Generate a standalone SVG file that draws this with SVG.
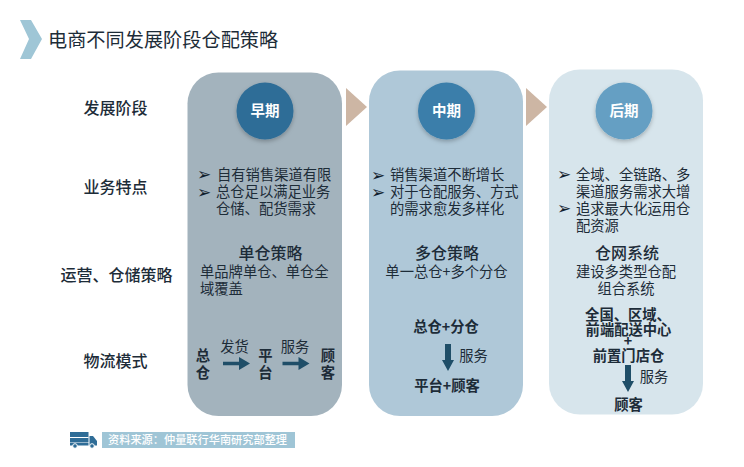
<svg xmlns="http://www.w3.org/2000/svg" width="744" height="467" viewBox="0 0 744 467">
<style>
text{font-family:"Noto Sans CJK SC","Noto Sans",sans-serif;fill:#1d2c38}
.l{font-size:16px;font-weight:500;text-anchor:middle}
.b{font-size:14.3px}
.c{font-size:14.3px;text-anchor:middle}
.s{font-size:16px;font-weight:500;text-anchor:middle}
.m{font-size:14.3px;font-weight:700;text-anchor:middle}
.p{font-size:17px;font-family:"DejaVu Sans",sans-serif;fill:#10202c}
.t{font-size:14.5px;font-weight:700;fill:#fff;text-anchor:middle}
.arw{fill:#1f4e68}
.tri{fill:#cdb6a4}
</style>
<defs>
<filter id="sh" x="-20%" y="-20%" width="140%" height="150%"><feDropShadow dx="0" dy="2" stdDeviation="2" flood-color="#000" flood-opacity=".25"/></filter>
<path id="ah" d="M0-1.7H16V-6.5L27 0 16 6.5V1.7H0Z"/>
<path id="av" d="M-3 0H3V16H6L0 27-6 16H-3Z"/>
</defs>
<rect width="744" height="467" fill="#fff"/>
<g id="title">
<polygon points="20,20 31,20 42,39 31,59 20,59 29,39" fill="#9fc6d6"/>
<text x="48" y="47" style="font-size:19.2px">电商不同发展阶段仓配策略</text>
</g>
<g id="row-labels">
<text class="l" x="115.5" y="114">发展阶段</text>
<text class="l" x="115.5" y="192.5">业务特点</text>
<text class="l" x="116.5" y="281">运营、仓储策略</text>
<text class="l" x="115.5" y="367">物流模式</text>
</g>
<g id="early">
<rect x="187.5" y="72.5" width="154.5" height="343.5" rx="31" fill="#a3b3bd"/>
<circle cx="265" cy="111" r="28.5" fill="#2f6d97" filter="url(#sh)"/>
<text class="t" x="265" y="116">早期</text>
<text class="p" x="197" y="180">➢</text><text class="b" x="217" y="179.5">自有销售渠道有限</text>
<text class="p" x="197" y="197.5">➢</text><text class="b" x="216" y="197">总仓足以满足业务</text>
<text class="b" x="216" y="214">仓储、配货需求</text>
<text class="s" x="270.5" y="259">单仓策略</text>
<text class="b" x="200" y="277">单品牌单仓、单仓全</text>
<text class="b" x="200" y="294">域覆盖</text>
<text class="m" x="203" y="361">总</text><text class="m" x="203" y="378">仓</text>
<text class="c" x="234.5" y="352">发货</text>
<use href="#ah" class="arw" x="223" y="363.5"/>
<text class="m" x="265.5" y="361">平</text><text class="m" x="265.5" y="378">台</text>
<text class="c" x="295" y="352">服务</text>
<use href="#ah" class="arw" x="282.5" y="363.5"/>
<text class="m" x="328" y="361">顾</text><text class="m" x="328" y="378">客</text>
</g>
<g id="mid">
<rect x="369" y="70.5" width="154" height="345.5" rx="31" fill="#afc8d8"/>
<circle cx="446.5" cy="111" r="28.5" fill="#3a7eaa" filter="url(#sh)"/>
<text class="t" x="446.5" y="116">中期</text>
<text class="p" x="371" y="180.5">➢</text><text class="b" x="390" y="180">销售渠道不断增长</text>
<text class="p" x="371" y="197.5">➢</text><text class="b" x="390" y="197">对于仓配服务、方式</text>
<text class="b" x="390" y="214">的需求愈发多样化</text>
<text class="s" x="447" y="259">多仓策略</text>
<text class="c" x="446.5" y="277">单一总仓+多个分仓</text>
<text class="m" x="446" y="332">总仓+分仓</text>
<use href="#av" class="arw" x="448" y="344"/>
<text class="c" x="473.5" y="361">服务</text>
<text class="m" x="447" y="391">平台+顾客</text>
</g>
<g id="late">
<rect x="549" y="69.5" width="154" height="345" rx="31" fill="#d7e5ec"/>
<circle cx="624" cy="111" r="28.5" fill="#659fc3" filter="url(#sh)"/>
<text class="t" x="624" y="116">后期</text>
<text class="p" x="557" y="180">➢</text><text class="b" x="576" y="179.5">全域、全链路、多</text>
<text class="b" x="576" y="196.5">渠道服务需求大增</text>
<text class="p" x="557" y="214">➢</text><text class="b" x="576" y="213.5">追求最大化运用仓</text>
<text class="b" x="576" y="231">配资源</text>
<text class="s" x="627" y="259">仓网系统</text>
<text class="c" x="626" y="277">建设多类型仓配</text>
<text class="c" x="626" y="294">组合系统</text>
<text class="m" style="font-weight:600"><tspan x="628" y="320">全国、区域、</tspan><tspan x="628.5" y="335">前端配送中心</tspan><tspan x="628" y="346">+</tspan><tspan x="628.5" y="361">前置门店仓</tspan></text>
<use href="#av" class="arw" x="628" y="365"/>
<text class="c" x="654" y="382">服务</text>
<text class="m" x="628.5" y="410">顾客</text>
</g>
<g id="connectors">
<polygon class="tri" points="346,88 367,107 346,126"/>
<polygon class="tri" points="526,88 547,107 526,126"/>
</g>
<g id="source">
<rect x="70" y="432" width="18.5" height="10.5" fill="#2f6d97"/>
<rect x="70" y="437" width="18.5" height="1" fill="#fff"/>
<path d="M89.5 436H93L97 441V445.5H89.5Z" fill="#2f6d97"/>
<rect x="70" y="443" width="18.5" height="2.5" fill="#2f6d97"/>
<circle cx="75" cy="446" r="2.3" fill="#2f6d97" stroke="#fff"/>
<circle cx="92" cy="446" r="2.3" fill="#2f6d97" stroke="#fff"/>
<rect x="102" y="432" width="193" height="16" fill="#9fc5d6"/>
<text x="108" y="444" style="font-size:11.2px;font-weight:500;fill:#fff">资料来源：仲量联行华南研究部整理</text>
</g>
</svg>
